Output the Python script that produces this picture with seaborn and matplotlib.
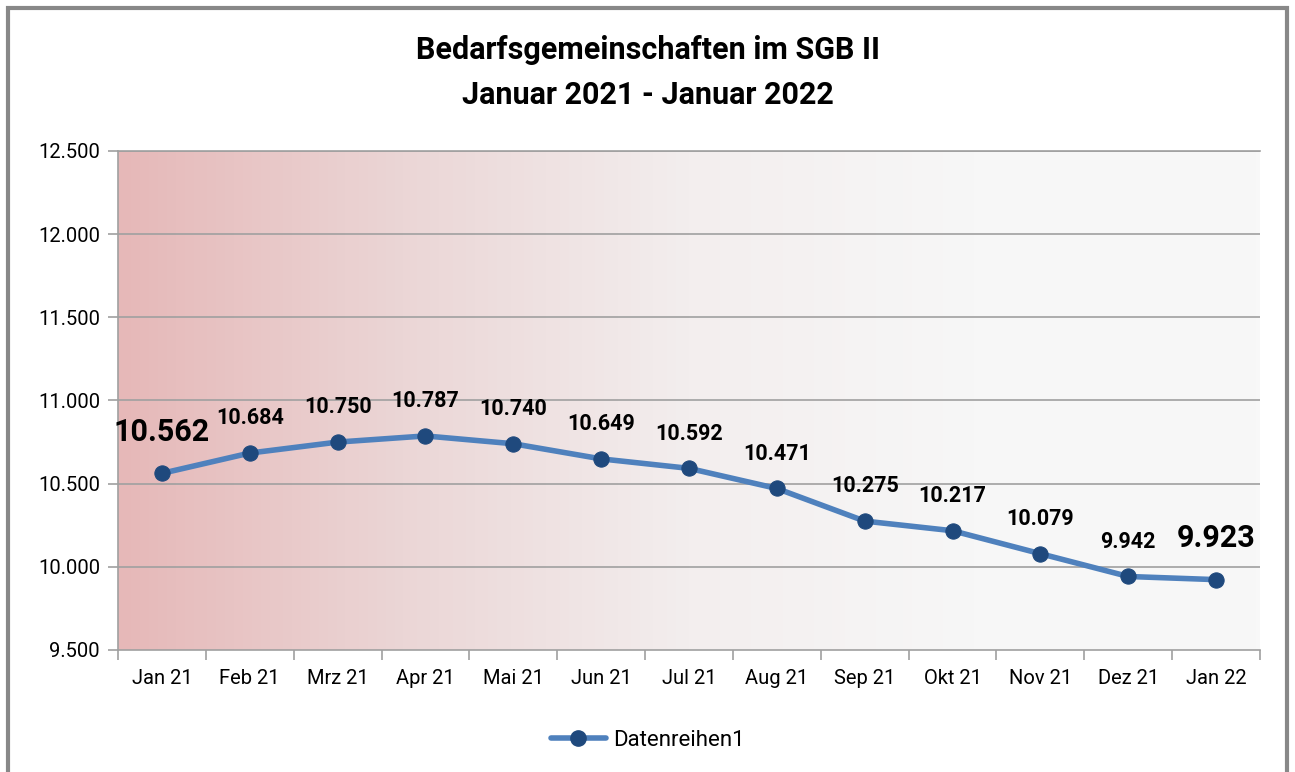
import numpy as np
import pandas as pd
import matplotlib
matplotlib.use("Agg")
import matplotlib.pyplot as plt
import seaborn as sns
from matplotlib.patches import Rectangle
from matplotlib.lines import Line2D
from matplotlib.colors import LinearSegmentedColormap

months = ["Jan 21", "Feb 21", "Mrz 21", "Apr 21", "Mai 21", "Jun 21", "Jul 21",
          "Aug 21", "Sep 21", "Okt 21", "Nov 21", "Dez 21", "Jan 22"]
values = [10562, 10684, 10750, 10787, 10740, 10649, 10592, 10471, 10275, 10217, 10079, 9942, 9923]
labels = ["10.562", "10.684", "10.750", "10.787", "10.740", "10.649", "10.592",
          "10.471", "10.275", "10.217", "10.079", "9.942", "9.923"]
yticks = [9500, 10000, 10500, 11000, 11500, 12000, 12500]
ytick_labels = ["9.500", "10.000", "10.500", "11.000", "11.500", "12.000", "12.500"]
series_name = "Datenreihen1"

sns.set_theme(style="white")
plt.rcParams['font.family'] = ['Roboto', 'DejaVu Sans']
plt.rcParams['text.color'] = 'black'
plt.rcParams['xtick.color'] = 'black'
plt.rcParams['ytick.color'] = 'black'

df = pd.DataFrame({"x": np.arange(len(months)), "value": values})

fig = plt.figure(figsize=(12.95, 7.72), dpi=100)
ax = fig.add_axes([118/1295, 1-650/772, (1260-118)/1295, (650-151)/772])

# gradient background
cmap = LinearSegmentedColormap.from_list("bg", ["#e6b8b8", "#ebd6d6", "#f3eeee", "#f7f7f7", "#f8f8f8"])
grad = np.linspace(0, 1, 256).reshape(1, -1)
ax.imshow(grad, aspect="auto", cmap=cmap, extent=[-0.5, 12.5, 9500, 12500], zorder=0)

for y in yticks[1:]:
    ax.axhline(y, color="#a0a0a0", lw=1.2, zorder=1)

line_color = "#4f81bd"
marker_color = "#1f497d"
sns.lineplot(data=df, x="x", y="value", ax=ax, color=line_color, lw=4, zorder=3,
             marker="o", markersize=11, markerfacecolor=marker_color,
             markeredgecolor=marker_color)

for i, (v, lab) in enumerate(zip(values, labels)):
    big = i in (0, len(values) - 1)
    ax.annotate(lab, (i, v), xytext=(0, 30 if big else 25), textcoords="offset points",
                ha="center", va="center", fontsize=22 if big else 15.5,
                fontweight="bold", color="black", zorder=4)

ax.set_xlim(-0.5, 12.5)
ax.set_ylim(9500, 12500)
ax.set_yticks(yticks)
ax.set_yticklabels(ytick_labels, fontsize=14.5)
ax.set_xticks(np.arange(len(months)))
ax.set_xticklabels(months, fontsize=14.5)
ax.set_xticks(np.arange(-0.5, 13, 1), minor=True)
ax.tick_params(axis="x", which="major", length=0, pad=14)
ax.tick_params(axis="x", which="minor", length=7, color="#a0a0a0", width=1.2, direction="out", bottom=True)
ax.tick_params(axis="y", length=7, color="#a0a0a0", width=1.2, direction="out", left=True, pad=6)
ax.set_xlabel("")
ax.set_ylabel("")
for s in ["left", "bottom", "top"]:
    ax.spines[s].set_visible(True)
    ax.spines[s].set_color("#a0a0a0")
    ax.spines[s].set_linewidth(1.2)
ax.spines["right"].set_visible(False)

fig.text(0.5, 1-50/772, "Bedarfsgemeinschaften im SGB II", ha="center", va="center",
         fontsize=22, fontweight="bold", color="black")
fig.text(0.5, 1-95/772, "Januar 2021 - Januar 2022", ha="center", va="center",
         fontsize=22, fontweight="bold", color="black")

handle = Line2D([], [], color=line_color, lw=4, marker="o", markersize=11,
                markerfacecolor=marker_color, markeredgecolor=marker_color)
fig.legend([handle], [series_name], loc="center", bbox_to_anchor=(0.5, 1-740/772),
           frameon=False, fontsize=16, handlelength=2.5, handletextpad=0.3)

fig.patches.append(Rectangle((8/1295, -0.05), (1287-8)/1295, 1.05 - 8/772,
                             transform=fig.transFigure, fill=False,
                             edgecolor="#888888", lw=3, zorder=10))

fig.savefig("out.png", dpi=100)
